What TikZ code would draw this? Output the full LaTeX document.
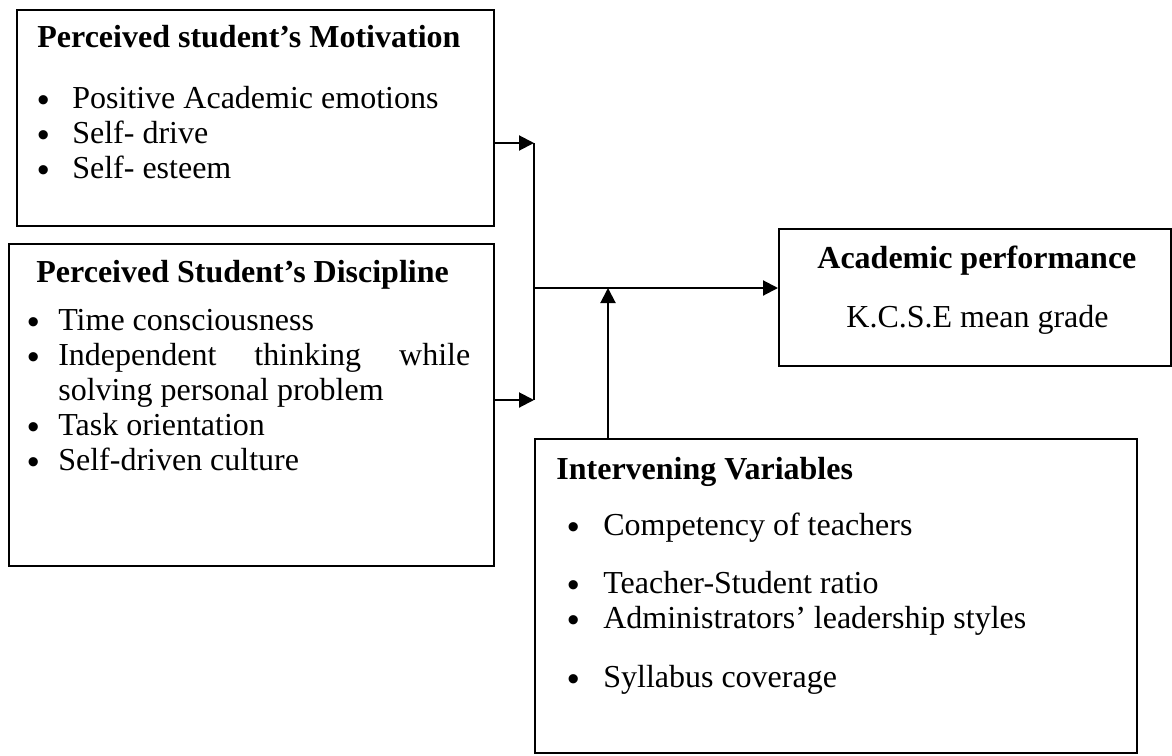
\documentclass[tikz,border=0pt]{standalone}
\usepackage{fontspec}
\setmainfont{Liberation Serif}
\newfontfamily\bulfont{Liberation Sans}
\usepackage{tikz}
\usetikzlibrary{arrows.meta}

% a Word-sized list bullet
\newcommand{\bul}{\raisebox{-1.5pt}{\bulfont\fontsize{17}{17.5}\selectfont\textbullet}}

\tikzset{
  box/.style={draw, line width=0.8pt, anchor=north west, inner sep=0pt},
  head/.style={anchor=base west, inner sep=0pt, font=\fontsize{16}{17.5}\selectfont\bfseries},
  item/.style={anchor=base west, inner sep=0pt},
  wire/.style={line width=1pt},
  link/.style={wire, -{Triangle[length=7.5pt, width=7.5pt]}}
}

\begin{document}
\begin{tikzpicture}[x=0.5pt, y=-0.5pt, font=\fontsize{16}{17.5}\selectfont]
\useasboundingbox (0,0) rectangle (1172,755);

% the four frames
\node[box, minimum width=238.5pt, minimum height=108pt] (mot) at (16,9) {};
\node[box, minimum width=242.5pt, minimum height=161pt] (disc) at (8,243) {};
\node[box, minimum width=196pt, minimum height=68.5pt] (perf) at (778,228) {};
\node[box, minimum width=301pt, minimum height=157pt] (inter) at (534,438) {};

% motivation
\node[head] (mothead) at (37,47) {Perceived student’s Motivation};
\node[item] (emo) at (37,108) {\bul\hspace{11.5pt}Positive Academic emotions};
\node[item] (drive) at (37,143) {\bul\hspace{11.5pt}Self- drive};
\node[item] (esteem) at (37,178) {\bul\hspace{11.5pt}Self- esteem};

% discipline
\node[head] (dischead) at (36,282) {Perceived Student’s Discipline};
\node[item] (time) at (27,330) {\bul\hspace{9.5pt}Time consciousness};
\node[item] (indep) at (27,365) {\bul\hspace{9.5pt}\makebox[206pt][s]{Independent thinking while}};
\node[item] (solve) at (58,400) {solving personal problem};
\node[item] (task) at (27,435) {\bul\hspace{9.5pt}Task orientation};
\node[item] (culture) at (27,470) {\bul\hspace{9.5pt}Self-driven culture};

% outcome
\node[head] (perfhead) at (817,268) {Academic performance};
\node[item] (kcse) at (846,327) {K.C.S.E mean grade};

% intervening
\node[head] (interhead) at (556,479) {Intervening Variables};
\node[item] (comp) at (567,535) {\bul\hspace{12pt}Competency of teachers};
\node[item] (ratio) at (567,593) {\bul\hspace{12pt}Teacher-Student ratio};
\node[item] (lead) at (567,628) {\bul\hspace{12pt}Administrators’ leadership styles};
\node[item] (syll) at (567,687) {\bul\hspace{12pt}Syllabus coverage};

% connectors
\coordinate (hub) at (534,288);
\coordinate (rise) at (608,288);
\draw[link] (mot.east |- drive.base) -- (hub |- drive.base);
\draw[link] (disc.east |- solve.base) -- (hub |- solve.base);
\draw[wire] (hub |- drive.base) -- (hub |- solve.base);
\draw[link] (hub) -- (perf.west |- hub);
\draw[link] (inter.north -| rise) -- (rise);

\end{tikzpicture}
\end{document}
